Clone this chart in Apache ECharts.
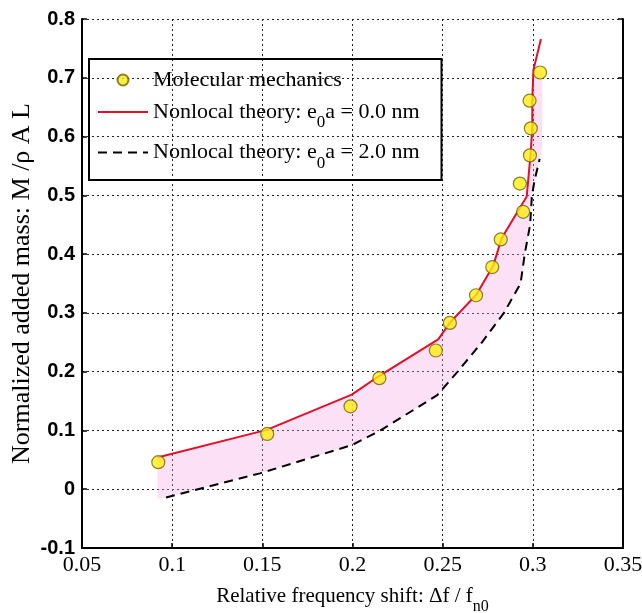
<!DOCTYPE html>
<html><head><meta charset="utf-8">
<script src="https://cdn.jsdelivr.net/npm/echarts@6/dist/echarts.min.js"></script>
<style>html,body{margin:0;padding:0;background:#fff}#c{width:642px;height:613px}</style>
</head><body><div id="c"></div>
<script>
// Molecular mechanics points
const mmX = [0.0923,0.1527,0.1989,0.2149,0.2462,0.2540,0.2685,0.2775,0.2822,0.2946,0.2928,0.2984,0.2989,0.2982,0.3040];
const mmY = [0.046,0.094,0.141,0.189,0.236,0.283,0.330,0.378,0.425,0.472,0.520,0.568,0.614,0.661,0.709];
// Nonlocal theory e0a = 0.0 nm
const r0X = [0.0918,0.1524,0.1996,0.2149,0.2475,0.2545,0.2689,0.2780,0.2827,0.2966,0.2988,0.2997,0.2997,0.3003,0.3045];
const r0Y = [0.054,0.101,0.161,0.193,0.255,0.285,0.332,0.380,0.427,0.498,0.572,0.617,0.662,0.713,0.766];
// Nonlocal theory e0a = 2.0 nm
const r2X = [0.0966,0.1487,0.1996,0.2155,0.2470,0.2583,0.2718,0.2840,0.2932,0.2955,0.2985,0.2995,0.3010,0.3038];
const r2Y = [-0.014,0.027,0.075,0.100,0.160,0.200,0.250,0.300,0.350,0.400,0.450,0.500,0.526,0.562];
// extra edge vertices of the shaded band
const bandRightX = [0.3052,0.3052];
const bandRightY = [0.713,0.580];
const bandLeftX = [0.0920];
const bandLeftY = [-0.016];
// ticks
const xTicks = {min:0.05, max:0.35, step:0.05};
const yTicks = {min:-0.1, max:0.8, step:0.1};

const zip = (a,b)=>a.map((v,i)=>[v,b[i]]);
const bandPts = [];
for (let i=0;i<r0X.length-1;i++) bandPts.push([r0X[i],r0Y[i]]);
bandRightX.forEach((v,i)=>bandPts.push([v,bandRightY[i]]));
for (let i=r2X.length-1;i>=0;i--) bandPts.push([r2X[i],r2Y[i]]);
bandLeftX.forEach((v,i)=>bandPts.push([v,bandLeftY[i]]));

const serif = 'Liberation Serif';
const names = ['Molecular mechanics','Nonlocal theory: e0a = 0.0 nm','Nonlocal theory: e0a = 2.0 nm'];
const chart = echarts.init(document.getElementById('c'));
chart.setOption({
  animation:false,
  backgroundColor:'#fff',
  grid:{left:82,right:19,top:19,bottom:65,outerBoundsMode:'none',containLabel:false},
  legend:{
    data:[{name:names[0]},
          {name:names[1],itemStyle:{opacity:0}},
          {name:names[2],itemStyle:{opacity:0}}],
    orient:'vertical', left:89, top:59,
    borderColor:'#000', borderWidth:2, padding:[10,22,8,8], itemGap:10,
    itemWidth:50, itemHeight:11,
    formatter:function(n){
      if(n===names[0]) return '{t|Molecular mechanics}';
      const v = n===names[1] ? '0.0' : '2.0';
      return '{t|Nonlocal theory: e}{s|0}{t|a = '+v+' nm}';
    },
    textStyle:{fontFamily:serif,fontSize:22,color:'#000',
      rich:{t:{fontFamily:serif,fontSize:22,color:'#000'},
            s:{fontFamily:serif,fontSize:17,color:'#000',padding:[22,0,0,0],verticalAlign:'bottom'}}}
  },
  xAxis:{type:'value',min:xTicks.min,max:xTicks.max,interval:xTicks.step,
    name:'{a|Relative frequency shift: \u0394f / f}{s|n0}',nameLocation:'middle',nameGap:29,nameMoveOverlap:false,
    nameTextStyle:{rich:{a:{fontFamily:serif,fontSize:21,color:'#000'},
      s:{fontFamily:serif,fontSize:16,color:'#000',padding:[22,0,0,0],verticalAlign:'bottom'}}},
    axisLine:{onZero:false,lineStyle:{color:'#000',width:2}},
    axisTick:{inside:true,length:5,lineStyle:{color:'#000',width:1.5}},
    axisLabel:{fontFamily:serif,fontSize:22,color:'#000',margin:6},
    splitLine:{show:true,lineStyle:{color:'#222',type:[2,3],width:1}}},
  yAxis:[{type:'value',min:yTicks.min,max:yTicks.max,interval:yTicks.step,
    name:'Normalized added mass: M /\u03c1 A L',nameLocation:'middle',nameGap:47,nameRotate:90,nameMoveOverlap:false,
    nameTextStyle:{fontFamily:serif,fontSize:26,color:'#000'},
    axisLine:{show:true,onZero:false,lineStyle:{color:'#000',width:2}},
    axisTick:{show:true,inside:true,length:5,lineStyle:{color:'#000',width:1.5}},
    axisLabel:{fontFamily:'Liberation Sans',fontWeight:'bold',fontSize:20,color:'#000',margin:7},
    splitLine:{show:true,lineStyle:{color:'#222',type:[2,3],width:1}}},
    {type:'value',position:'right',min:yTicks.min,max:yTicks.max,interval:yTicks.step,
    axisLine:{show:true,onZero:false,lineStyle:{color:'#000',width:2}},
    axisTick:{show:true,inside:true,length:5,lineStyle:{color:'#000',width:1.5}},
    axisLabel:{show:false},splitLine:{show:false}}],
  series:[
    {type:'custom',name:'band',silent:true,z:1,data:bandPts,
     renderItem:function(params,api){
       if(params.dataIndex!==0) return;
       const pts = bandPts.map(p=>api.coord(p));
       return {type:'polygon',shape:{points:pts},style:{fill:'rgba(245,160,225,0.32)'}};
     }},
    {type:'line',name:names[1],data:zip(r0X,r0Y),symbol:'none',z:3,
     lineStyle:{color:'#e0102a',width:2},itemStyle:{color:'#e0102a'}},
    {type:'line',name:names[2],data:zip(r2X,r2Y),symbol:'none',z:3,
     lineStyle:{color:'#000',width:2,type:[9,6]},itemStyle:{color:'#000'}},
    {type:'scatter',name:names[0],data:zip(mmX,mmY),symbol:'circle',symbolSize:13,z:4,
     itemStyle:{color:'#ffee10',borderColor:'#6e6010',borderWidth:1.2}}
  ]
});
</script></body></html>
